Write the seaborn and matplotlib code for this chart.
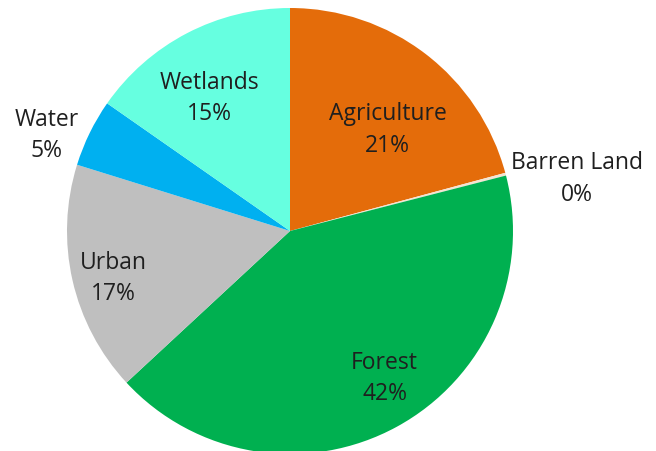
import matplotlib
matplotlib.use("Agg")
import matplotlib.pyplot as plt
import seaborn as sns

# Land-cover shares (percent), clockwise from 12 o'clock
categories = ["Agriculture", "Barren Land", "Forest", "Urban", "Water", "Wetlands"]
shares = [20.8, 0.2, 42.1, 16.7, 4.9, 15.3]
colors = ["#E46C0A", "#F3E4D2", "#00B050", "#BFBFBF", "#00B0F0", "#66FFE0"]

# Label anchor points, in units of the pie radius from its centre
label_xy = [(0.437, 0.453), (1.287, 0.233), (0.424, -0.661),
            (-0.794, -0.213), (-1.092, 0.428), (-0.363, 0.594)]

sns.set_theme(style="white")
plt.rcParams["font.family"] = ["Open Sans", "DejaVu Sans"]

W, H = 656, 451
cx, cy, r = 290, 231, 223

fig = plt.figure(figsize=(W / 100, H / 100), dpi=100)
ax = fig.add_axes([0, 0, 1, 1])
ax.pie(shares, colors=colors, startangle=90, counterclock=False,
       radius=1, center=(0, 0), wedgeprops=dict(linewidth=0))
ax.set_xlim(-cx / r, (W - cx) / r)
ax.set_ylim(-(H - cy) / r, cy / r)
ax.set_aspect("auto")
ax.axis("off")

total = sum(shares)
for name, v, (x, y) in zip(categories, shares, label_xy):
    ax.text(x, y, f"{name}\n{round(100 * v / total):.0f}%", ha="center", va="center",
            fontsize=16.5, color="#1F1F1F", linespacing=1.42)

fig.savefig("out.png", dpi=100)
